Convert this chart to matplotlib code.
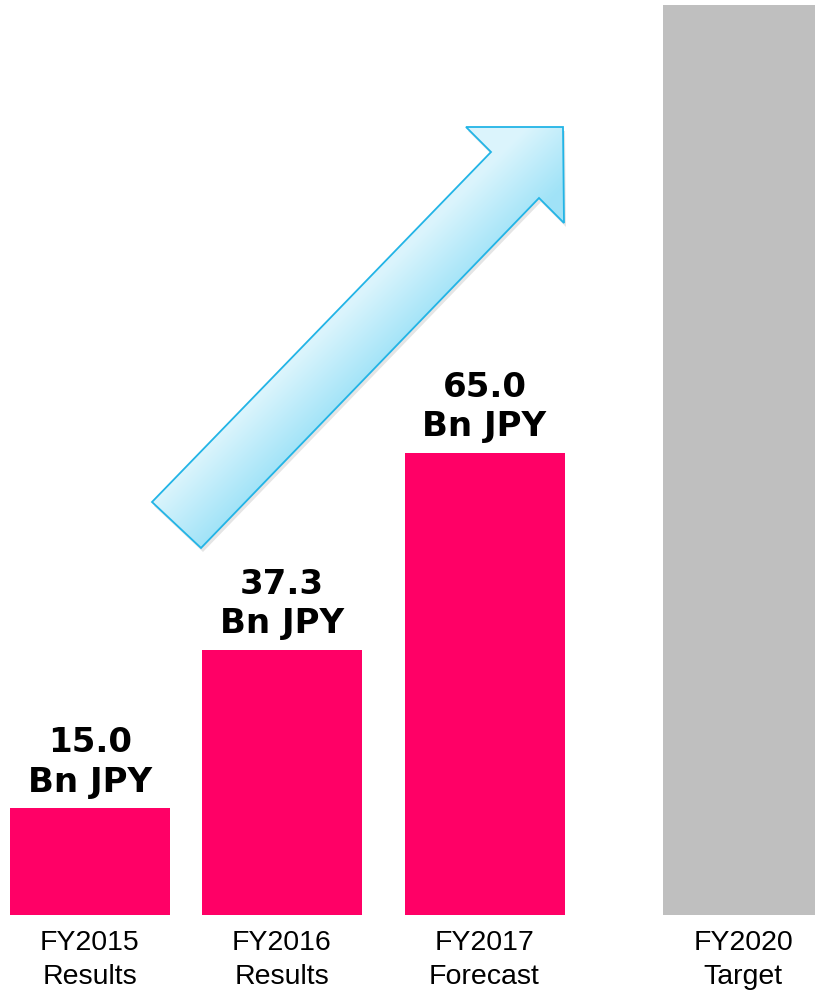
import matplotlib
matplotlib.use("Agg")
import matplotlib.pyplot as plt
import numpy as np
from matplotlib.patches import Polygon
from matplotlib import font_manager

categories = ["FY2015\nResults", "FY2016\nResults", "FY2017\nForecast", "FY2020\nTarget"]
values = [15.0, 37.3, 65.0, 128.0]
value_labels = ["15.0\nBn JPY", "37.3\nBn JPY", "65.0\nBn JPY", None]
colors = ["#FF0066", "#FF0066", "#FF0066", "#BFBFBF"]

# layout (pixel-like x coordinates)
positions = [90, 282, 484.5, 743]
bar_width = 160

names = {f.name for f in font_manager.fontManager.ttflist}
tick_family = ["Liberation Sans Narrow"] if "Liberation Sans Narrow" in names else ["Liberation Sans"]

fig = plt.figure(figsize=(8.15, 9.96), dpi=100)
ax = fig.add_axes([0, 81 / 996, 1, 915 / 996])
ax.bar(positions, values, width=bar_width, color=colors, zorder=2)
ax.set_xlim(0, 815)
ax.set_ylim(0, 915 / 7.108)
for s in ax.spines.values():
    s.set_visible(False)
ax.set_yticks([])
ax.set_xticks(positions)
ax.set_xticklabels(categories, fontsize=20.5, family=tick_family, linespacing=1.38)
ax.tick_params(axis="x", length=0, pad=11)

for x, v, lab in zip(positions, values, value_labels):
    if lab:
        ax.annotate(lab, (x, v), xytext=(0, 7), textcoords="offset points",
                    ha="center", va="bottom", fontsize=24.5, fontweight="bold",
                    family="DejaVu Sans", linespacing=1.25)

# decorative arrow in figure-pixel overlay
ov = fig.add_axes([0, 0, 1, 1])
ov.set_xlim(0, 815)
ov.set_ylim(996, 0)
ov.axis("off")
ov.patch.set_visible(False)
arrow_pts = np.array([(152, 502), (491, 152), (466, 127), (563, 127),
                      (564, 223), (539, 198), (201, 548)])
shadow = Polygon(arrow_pts + np.array([2, 4]), closed=True, facecolor="#000000",
                 alpha=0.10, edgecolor="none", zorder=1)
ov.add_patch(shadow)
poly = Polygon(arrow_pts, closed=True, facecolor="none", edgecolor="#22B4E6",
               linewidth=1.3, zorder=3)
ov.add_patch(poly)
gx, gy = np.meshgrid(np.linspace(140, 580, 300), np.linspace(110, 560, 300))
light = np.array([0.86, 0.96, 0.99])
dark = np.array([0.63, 0.89, 0.97])
d = (gx - 152) * 0.7071 + (gy - 502) * 0.7071
t = np.clip(d / 67.0, 0, 1)
img = light[None, None, :] * (1 - t[..., None]) + dark[None, None, :] * t[..., None]
im = ov.imshow(img, extent=(140, 580, 560, 110), zorder=2, interpolation="bilinear")
im.set_clip_path(Polygon(arrow_pts, closed=True, transform=ov.transData))
ov.set_xlim(0, 815)
ov.set_ylim(996, 0)

fig.savefig("out.png", dpi=100)
